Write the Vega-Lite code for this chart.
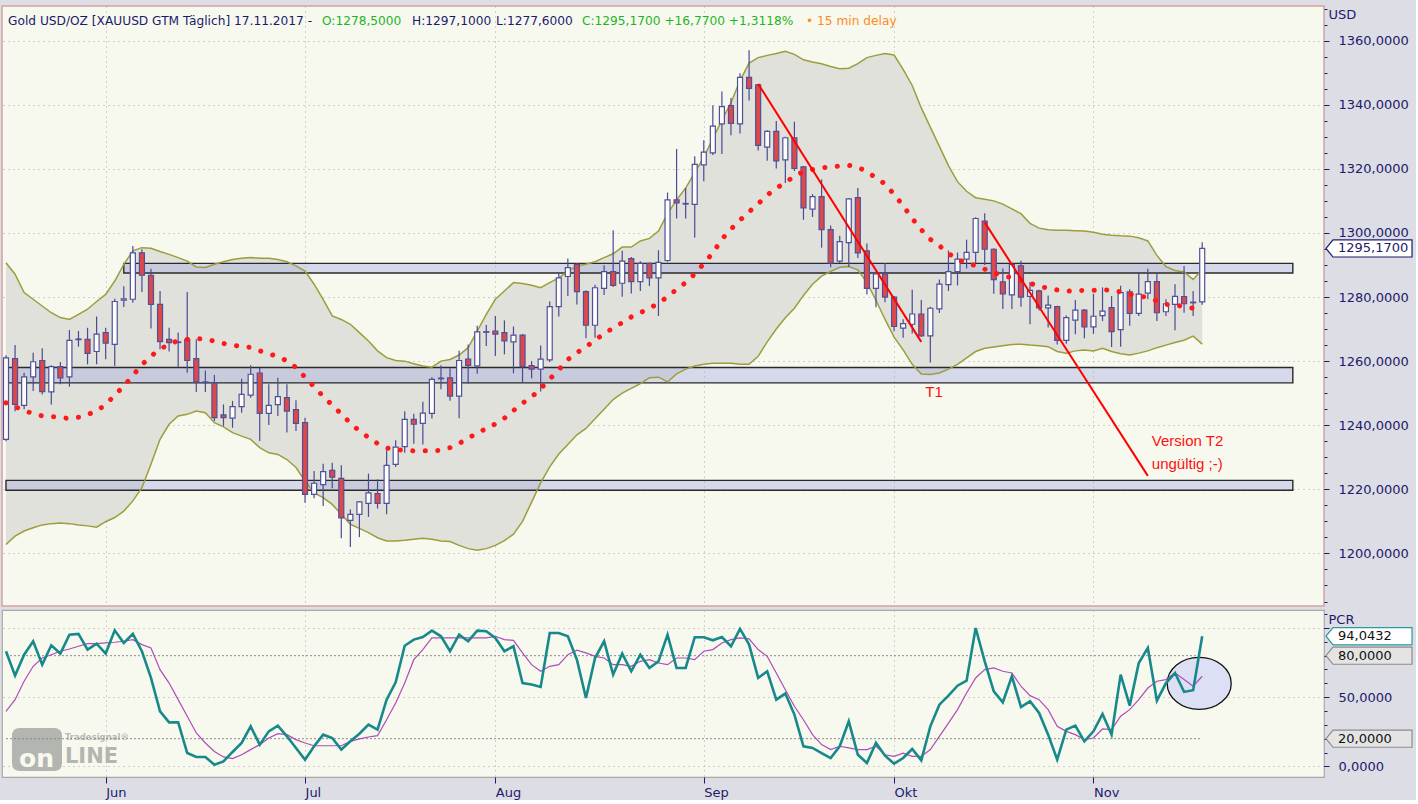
{
  "$schema": "https://vega.github.io/schema/vega-lite/v6.json",
  "background": "#dddde5",
  "padding": {"left": -5, "top": 5, "right": 0, "bottom": 0},
  "spacing": 2,
  "config": {
    "font": "DejaVu Sans",
    "axis": {
      "labelFont": "DejaVu Sans", "labelFontSize": 13, "labelColor": "#1b1b6b",
      "tickColor": "#1b1b6b", "gridColor": "#a8a8a8", "gridDash": [1, 4], "gridWidth": 1,
      "domain": false, "titleFont": "DejaVu Sans", "titleFontWeight": "normal",
      "titleFontSize": 13, "titleColor": "#1b1b6b"
    }
  },
  "datasets": {
    "gold": [
      {"d":"2017-05-17","o":1235.6,"h":1261.8,"l":1235,"c":1261,"bu":1290.7,"bl":1202.8,"m":1247,"p":83.2,"s":39.8},
      {"d":"2017-05-18","o":1260.8,"h":1265,"l":1244.4,"c":1246.5,"bu":1287.1,"bl":1205.4,"m":1245.8,"p":65.6,"s":48.2},
      {"d":"2017-05-19","o":1246.2,"h":1256.4,"l":1245,"c":1255.1,"bu":1281.4,"bl":1207,"m":1244.6,"p":80.7,"s":61.5},
      {"d":"2017-05-22","o":1255.1,"h":1262.6,"l":1250.7,"c":1259.8,"bu":1279.3,"bl":1208,"m":1243.6,"p":90.4,"s":72.3},
      {"d":"2017-05-23","o":1260.2,"h":1264,"l":1249.6,"c":1250.5,"bu":1277.2,"bl":1208.9,"m":1242.9,"p":73.5,"s":78.3},
      {"d":"2017-05-24","o":1250.4,"h":1258.7,"l":1246.5,"c":1258.3,"bu":1275.1,"bl":1209.3,"m":1242.7,"p":87.5,"s":80.7},
      {"d":"2017-05-25","o":1258.3,"h":1259.7,"l":1252.8,"c":1254.8,"bu":1273.6,"bl":1209.5,"m":1242.4,"p":81.5,"s":83.2},
      {"d":"2017-05-26","o":1255.1,"h":1269.7,"l":1252,"c":1266.5,"bu":1273,"bl":1209.3,"m":1242.1,"p":95.2,"s":84.8},
      {"d":"2017-05-29","o":1266.7,"h":1269.4,"l":1264.5,"c":1266.9,"bu":1274.6,"bl":1208.9,"m":1242.5,"p":95.7,"s":86.8},
      {"d":"2017-05-30","o":1266.8,"h":1270.4,"l":1259,"c":1262.4,"bu":1276.2,"bl":1208.6,"m":1243.3,"p":84.4,"s":88.7},
      {"d":"2017-05-31","o":1263,"h":1273.9,"l":1259,"c":1268.4,"bu":1278.6,"bl":1208.2,"m":1244.5,"p":88.7,"s":88.7},
      {"d":"2017-06-01","o":1268.9,"h":1270.4,"l":1260.6,"c":1265.6,"bu":1280.8,"bl":1209.9,"m":1246.4,"p":81.5,"s":89.2},
      {"d":"2017-06-02","o":1265.2,"h":1279.5,"l":1258.5,"c":1278.6,"bu":1285,"bl":1211.2,"m":1249.4,"p":98.3,"s":89.7},
      {"d":"2017-06-05","o":1279,"h":1283.4,"l":1276.9,"c":1279.4,"bu":1290.2,"bl":1213.2,"m":1252.2,"p":89.2,"s":90.4},
      {"d":"2017-06-06","o":1279.3,"h":1295.9,"l":1278.2,"c":1293.8,"bu":1294.4,"bl":1216.4,"m":1255.5,"p":95.7,"s":91.6},
      {"d":"2017-06-07","o":1293.8,"h":1294.9,"l":1281.6,"c":1286.8,"bu":1295.4,"bl":1220.5,"m":1258.9,"p":83.2,"s":88},
      {"d":"2017-06-08","o":1286.8,"h":1288.8,"l":1270.2,"c":1277.7,"bu":1295.2,"bl":1227.8,"m":1261.6,"p":63.9,"s":85.6},
      {"d":"2017-06-09","o":1277.7,"h":1281.9,"l":1263.7,"c":1266.1,"bu":1294.2,"bl":1235.6,"m":1263.7,"p":39.8,"s":69.9},
      {"d":"2017-06-12","o":1266.8,"h":1270.4,"l":1263,"c":1265.8,"bu":1293.3,"bl":1240.3,"m":1265.3,"p":31.8,"s":60.2},
      {"d":"2017-06-13","o":1266,"h":1268.9,"l":1258,"c":1265.8,"bu":1292.3,"bl":1242.9,"m":1266.4,"p":31.8,"s":48.2},
      {"d":"2017-06-14","o":1266.8,"h":1281.6,"l":1256.4,"c":1260.2,"bu":1291.2,"bl":1243.4,"m":1266.8,"p":9.6,"s":36.2},
      {"d":"2017-06-15","o":1260.8,"h":1266.8,"l":1250.4,"c":1253.5,"bu":1289.4,"bl":1244.4,"m":1267,"p":6.8,"s":24.1},
      {"d":"2017-06-16","o":1253.5,"h":1257.1,"l":1250.4,"c":1253.3,"bu":1289.2,"bl":1243.9,"m":1266.9,"p":6.8,"s":16.9},
      {"d":"2017-06-19","o":1253.1,"h":1255.7,"l":1241.3,"c":1242.4,"bu":1290.2,"bl":1240.8,"m":1266.2,"p":1.2,"s":10.8},
      {"d":"2017-06-20","o":1243.2,"h":1246.5,"l":1239.8,"c":1242.4,"bu":1291,"bl":1239.5,"m":1265.5,"p":3.6,"s":6.8},
      {"d":"2017-06-21","o":1242.2,"h":1247.6,"l":1239.2,"c":1245.8,"bu":1291.7,"bl":1237.7,"m":1265,"p":10.4,"s":5.6},
      {"d":"2017-06-22","o":1245.8,"h":1254.5,"l":1243.9,"c":1249.6,"bu":1292.1,"bl":1236.6,"m":1264.6,"p":16.9,"s":8.4},
      {"d":"2017-06-23","o":1249.4,"h":1258.7,"l":1248.6,"c":1255.9,"bu":1292.3,"bl":1235.6,"m":1264.3,"p":28.9,"s":12.1},
      {"d":"2017-06-26","o":1256.3,"h":1257.9,"l":1235.1,"c":1243.7,"bu":1292.1,"bl":1233,"m":1263.2,"p":15.7,"s":15.7},
      {"d":"2017-06-27","o":1243.7,"h":1252.8,"l":1240.1,"c":1246.2,"bu":1292.1,"bl":1231.4,"m":1262.3,"p":25.3,"s":20.5},
      {"d":"2017-06-28","o":1246.4,"h":1254.8,"l":1242.9,"c":1248.9,"bu":1291.7,"bl":1230.9,"m":1261.4,"p":29.4,"s":23.6},
      {"d":"2017-06-29","o":1248.6,"h":1252.8,"l":1237.7,"c":1244.4,"bu":1291,"bl":1229.3,"m":1260.1,"p":21.7,"s":22.9},
      {"d":"2017-06-30","o":1244.9,"h":1247.8,"l":1238.2,"c":1240.6,"bu":1289.7,"bl":1226.8,"m":1258,"p":13.3,"s":19.3},
      {"d":"2017-07-03","o":1240.8,"h":1242.3,"l":1215.8,"c":1218.4,"bu":1288.1,"bl":1222.6,"m":1255,"p":4.8,"s":16.9},
      {"d":"2017-07-04","o":1218.4,"h":1225.7,"l":1217.2,"c":1221.9,"bu":1284,"bl":1218.9,"m":1252,"p":14.5,"s":14.9},
      {"d":"2017-07-05","o":1221.5,"h":1228,"l":1214.8,"c":1225.5,"bu":1279.3,"bl":1217.4,"m":1249,"p":22.9,"s":14.9},
      {"d":"2017-07-06","o":1225.9,"h":1228.3,"l":1220.3,"c":1223.8,"bu":1274.1,"bl":1215.3,"m":1246.3,"p":20.5,"s":14.9},
      {"d":"2017-07-07","o":1223.4,"h":1227.5,"l":1204.7,"c":1211.1,"bu":1273,"bl":1212.2,"m":1243.5,"p":12.1,"s":14.9},
      {"d":"2017-07-10","o":1210.3,"h":1213.7,"l":1202,"c":1212.2,"bu":1271.5,"bl":1209.1,"m":1240.7,"p":18.1,"s":18.1},
      {"d":"2017-07-11","o":1212.2,"h":1216.3,"l":1205.1,"c":1216.1,"bu":1268.9,"bl":1207.8,"m":1238.2,"p":23.6,"s":19.8},
      {"d":"2017-07-12","o":1215.6,"h":1224.9,"l":1211.4,"c":1218.9,"bu":1266.3,"bl":1206.5,"m":1236.2,"p":30.1,"s":21.2},
      {"d":"2017-07-13","o":1218.7,"h":1223.1,"l":1214,"c":1215.6,"bu":1263.2,"bl":1204.9,"m":1234.3,"p":26.5,"s":22.2},
      {"d":"2017-07-14","o":1215.6,"h":1232.2,"l":1212.2,"c":1227.5,"bu":1261.1,"bl":1203.9,"m":1232.9,"p":48.2,"s":33.7},
      {"d":"2017-07-17","o":1227.8,"h":1235.3,"l":1227,"c":1233.2,"bu":1260.2,"bl":1203.9,"m":1232.4,"p":60.7,"s":45.8},
      {"d":"2017-07-18","o":1233.3,"h":1244.4,"l":1231.4,"c":1241.8,"bu":1260,"bl":1204.1,"m":1232.1,"p":87.2,"s":60.2},
      {"d":"2017-07-19","o":1241.8,"h":1243.6,"l":1234.2,"c":1240.3,"bu":1259.2,"bl":1204.4,"m":1232,"p":91.6,"s":77.1},
      {"d":"2017-07-20","o":1240.6,"h":1247.3,"l":1234,"c":1243.8,"bu":1258.5,"bl":1204.7,"m":1232,"p":93.5,"s":84.4},
      {"d":"2017-07-21","o":1243.7,"h":1255,"l":1242.1,"c":1254.3,"bu":1258.1,"bl":1204.4,"m":1232,"p":98.1,"s":92.8},
      {"d":"2017-07-24","o":1254.5,"h":1258.7,"l":1251.2,"c":1254.7,"bu":1260,"bl":1203.9,"m":1232.2,"p":94,"s":92.8},
      {"d":"2017-07-25","o":1254.8,"h":1257.8,"l":1247.6,"c":1249.1,"bu":1260.5,"bl":1203.7,"m":1233,"p":83.2,"s":92.8},
      {"d":"2017-07-26","o":1249.1,"h":1263.2,"l":1242.2,"c":1260.2,"bu":1261.9,"bl":1202.5,"m":1234.3,"p":95.2,"s":92.8},
      {"d":"2017-07-27","o":1260.6,"h":1265.2,"l":1253,"c":1258.7,"bu":1264.2,"bl":1201.5,"m":1236,"p":90.4,"s":92.8},
      {"d":"2017-07-28","o":1258.5,"h":1271,"l":1256.1,"c":1269.1,"bu":1269.4,"bl":1201,"m":1237.5,"p":98.1,"s":92.8},
      {"d":"2017-07-31","o":1269,"h":1271.3,"l":1264.7,"c":1269.2,"bu":1274.6,"bl":1201.5,"m":1239,"p":97.6,"s":92.8},
      {"d":"2017-08-01","o":1269.4,"h":1274.1,"l":1261.6,"c":1268.4,"bu":1279.3,"bl":1202.5,"m":1240.4,"p":92.8,"s":94},
      {"d":"2017-08-02","o":1268.9,"h":1272.7,"l":1262.1,"c":1266.3,"bu":1281.9,"bl":1204,"m":1242.2,"p":83.2,"s":91.6},
      {"d":"2017-08-03","o":1266,"h":1270.8,"l":1256.2,"c":1268.1,"bu":1284.5,"bl":1206,"m":1244.6,"p":86.8,"s":91.1},
      {"d":"2017-08-04","o":1268.1,"h":1268.4,"l":1253.3,"c":1258.3,"bu":1284.2,"bl":1210,"m":1246.9,"p":60.2,"s":82},
      {"d":"2017-08-07","o":1258.6,"h":1260,"l":1254.6,"c":1257.5,"bu":1283.7,"bl":1216,"m":1248.8,"p":59.1,"s":73.5},
      {"d":"2017-08-08","o":1257.5,"h":1264.9,"l":1250.5,"c":1260.6,"bu":1282.9,"bl":1222,"m":1251.4,"p":57.4,"s":68.7},
      {"d":"2017-08-09","o":1260.4,"h":1278.6,"l":1259.7,"c":1277,"bu":1284.5,"bl":1227,"m":1254.4,"p":96.4,"s":72.3},
      {"d":"2017-08-10","o":1277,"h":1287.6,"l":1273.9,"c":1286,"bu":1286,"bl":1231,"m":1257.3,"p":96.4,"s":73.5},
      {"d":"2017-08-11","o":1286.4,"h":1292,"l":1280.3,"c":1289.2,"bu":1288.1,"bl":1234,"m":1260.5,"p":94,"s":80.7},
      {"d":"2017-08-14","o":1290.2,"h":1290.6,"l":1277.7,"c":1281.7,"bu":1289.7,"bl":1237,"m":1262.6,"p":77.1,"s":83.9},
      {"d":"2017-08-15","o":1281.7,"h":1282.1,"l":1267.1,"c":1271.2,"bu":1290.2,"bl":1239,"m":1264.5,"p":49.4,"s":82},
      {"d":"2017-08-16","o":1271.2,"h":1283.8,"l":1267.3,"c":1282.9,"bu":1291,"bl":1242,"m":1266.5,"p":78.3,"s":79.5},
      {"d":"2017-08-17","o":1282.7,"h":1289.9,"l":1280.6,"c":1287.9,"bu":1292.3,"bl":1245,"m":1268.6,"p":90.4,"s":78.3},
      {"d":"2017-08-18","o":1287.9,"h":1300.8,"l":1283.1,"c":1283.6,"bu":1293.5,"bl":1248,"m":1270.3,"p":66.3,"s":73.5},
      {"d":"2017-08-21","o":1284.3,"h":1294.4,"l":1280.1,"c":1291.2,"bu":1295.6,"bl":1250,"m":1272,"p":81.5,"s":73.5},
      {"d":"2017-08-22","o":1292,"h":1292.5,"l":1281.1,"c":1284.8,"bu":1295.6,"bl":1251.5,"m":1273.8,"p":68.7,"s":72.3},
      {"d":"2017-08-23","o":1284.8,"h":1291.2,"l":1281.9,"c":1290.5,"bu":1297.5,"bl":1253,"m":1275.1,"p":80.7,"s":75.9},
      {"d":"2017-08-24","o":1290.5,"h":1290.7,"l":1283.4,"c":1286,"bu":1298.3,"bl":1254.8,"m":1276.5,"p":71.1,"s":77.1},
      {"d":"2017-08-25","o":1286,"h":1294.6,"l":1274.1,"c":1290.8,"bu":1300.6,"bl":1255,"m":1278,"p":75.9,"s":74.7},
      {"d":"2017-08-28","o":1291.4,"h":1312.6,"l":1291,"c":1310.3,"bu":1306,"bl":1253.5,"m":1280.1,"p":95.2,"s":73.5},
      {"d":"2017-08-29","o":1310.3,"h":1326.2,"l":1304.5,"c":1309.4,"bu":1310.3,"bl":1256,"m":1282.4,"p":71.1,"s":78.3},
      {"d":"2017-08-30","o":1309.2,"h":1314,"l":1304.5,"c":1309,"bu":1314,"bl":1257.5,"m":1284.5,"p":71.1,"s":78.3},
      {"d":"2017-08-31","o":1308.9,"h":1323.9,"l":1298.6,"c":1321.4,"bu":1318.8,"bl":1258.5,"m":1287.2,"p":93.3,"s":77.1},
      {"d":"2017-09-01","o":1321.2,"h":1328.9,"l":1316.1,"c":1325.2,"bu":1323.6,"bl":1259,"m":1290.4,"p":93.3,"s":83.2},
      {"d":"2017-09-04","o":1325,"h":1339.8,"l":1324.3,"c":1333.3,"bu":1329.4,"bl":1259.3,"m":1293.8,"p":91.1,"s":84.4},
      {"d":"2017-09-05","o":1334,"h":1344.1,"l":1324.6,"c":1339.4,"bu":1335.2,"bl":1259.3,"m":1298,"p":93.5,"s":89.2},
      {"d":"2017-09-06","o":1339.7,"h":1342.1,"l":1330.5,"c":1334.2,"bu":1340.6,"bl":1259.3,"m":1301.2,"p":86.8,"s":91.6},
      {"d":"2017-09-07","o":1334,"h":1349.8,"l":1331,"c":1348.5,"bu":1347.5,"bl":1259,"m":1304,"p":99.3,"s":92.8},
      {"d":"2017-09-08","o":1348.5,"h":1357,"l":1341.3,"c":1345.1,"bu":1353,"bl":1259,"m":1306.6,"p":88,"s":92.1},
      {"d":"2017-09-11","o":1346.2,"h":1346.5,"l":1325.7,"c":1327.3,"bu":1354.7,"bl":1261.5,"m":1309.1,"p":63.9,"s":84.4},
      {"d":"2017-09-12","o":1326.8,"h":1332,"l":1322.5,"c":1331.7,"bu":1355.4,"bl":1266,"m":1311.8,"p":68.7,"s":79.5},
      {"d":"2017-09-13","o":1331.7,"h":1334.9,"l":1320.1,"c":1322.5,"bu":1356,"bl":1270,"m":1314,"p":48.2,"s":67.5},
      {"d":"2017-09-14","o":1322.8,"h":1330,"l":1315.6,"c":1329.7,"bu":1356.7,"bl":1273.5,"m":1315.6,"p":52.6,"s":55.4},
      {"d":"2017-09-15","o":1329.7,"h":1334.7,"l":1319.3,"c":1320.1,"bu":1355.7,"bl":1276.5,"m":1317.8,"p":37.4,"s":43.4},
      {"d":"2017-09-18","o":1320.6,"h":1320.9,"l":1304.1,"c":1307.8,"bu":1354,"bl":1280.5,"m":1319.1,"p":14.5,"s":33.7},
      {"d":"2017-09-19","o":1307.4,"h":1312.1,"l":1305,"c":1311.3,"bu":1353.3,"bl":1284,"m":1319.8,"p":13.3,"s":22.9},
      {"d":"2017-09-20","o":1311.3,"h":1316.7,"l":1295.4,"c":1301,"bu":1352.8,"bl":1286.5,"m":1320.3,"p":9.6,"s":15.7},
      {"d":"2017-09-21","o":1301,"h":1302.3,"l":1289.3,"c":1290.6,"bu":1351.9,"bl":1288,"m":1320.6,"p":6,"s":12.1},
      {"d":"2017-09-22","o":1291.2,"h":1299.1,"l":1290.6,"c":1297.3,"bu":1351.2,"bl":1289.3,"m":1320.9,"p":14.5,"s":14.5},
      {"d":"2017-09-25","o":1297,"h":1310.8,"l":1289.4,"c":1310.6,"bu":1351.4,"bl":1289.5,"m":1321.1,"p":32.5,"s":13.3},
      {"d":"2017-09-26","o":1311,"h":1314,"l":1292.2,"c":1293.8,"bu":1352.8,"bl":1288.5,"m":1320.5,"p":8.4,"s":12.1},
      {"d":"2017-09-27","o":1294.4,"h":1296.7,"l":1280.8,"c":1282.7,"bu":1354.7,"bl":1284.5,"m":1319.1,"p":2.4,"s":12.1},
      {"d":"2017-09-28","o":1282.7,"h":1288,"l":1276.8,"c":1287.2,"bu":1355.4,"bl":1279,"m":1317.2,"p":16.9,"s":14.5},
      {"d":"2017-09-29","o":1287.2,"h":1290.6,"l":1278.4,"c":1280,"bu":1356,"bl":1273,"m":1315.3,"p":7.7,"s":8.4},
      {"d":"2017-10-02","o":1280,"h":1280.3,"l":1269.3,"c":1270.8,"bu":1355.5,"bl":1267.5,"m":1312,"p":1.9,"s":7.2},
      {"d":"2017-10-03","o":1270.3,"h":1273.1,"l":1267.3,"c":1271.7,"bu":1351,"bl":1263.5,"m":1308.5,"p":6,"s":9.6},
      {"d":"2017-10-04","o":1271.5,"h":1282.3,"l":1268.6,"c":1274.7,"bu":1346,"bl":1259,"m":1304.5,"p":12.5,"s":7.2},
      {"d":"2017-10-05","o":1274.7,"h":1279.1,"l":1267.6,"c":1267.9,"bu":1339,"bl":1256,"m":1301,"p":4.3,"s":7.2},
      {"d":"2017-10-06","o":1267.9,"h":1277,"l":1259.6,"c":1276.5,"bu":1333,"bl":1255.8,"m":1298,"p":28.9,"s":12.1},
      {"d":"2017-10-09","o":1276.3,"h":1285.5,"l":1275,"c":1284,"bu":1327,"bl":1256.3,"m":1296,"p":44.6,"s":21.7},
      {"d":"2017-10-10","o":1283.9,"h":1294.5,"l":1281.9,"c":1287.9,"bu":1321,"bl":1257.5,"m":1293.6,"p":51.1,"s":31.3},
      {"d":"2017-10-11","o":1287.9,"h":1293.9,"l":1283.6,"c":1291.8,"bu":1316,"bl":1259,"m":1291.8,"p":58.3,"s":41},
      {"d":"2017-10-12","o":1291.8,"h":1297.9,"l":1288.9,"c":1293.9,"bu":1313,"bl":1261,"m":1290.5,"p":61.9,"s":53},
      {"d":"2017-10-13","o":1293.9,"h":1304.9,"l":1290.5,"c":1304.5,"bu":1311,"bl":1263,"m":1289.8,"p":100,"s":63.9},
      {"d":"2017-10-16","o":1303.7,"h":1306.1,"l":1290,"c":1294.9,"bu":1310.5,"bl":1264,"m":1288.7,"p":75.9,"s":69.9},
      {"d":"2017-10-17","o":1294.9,"h":1295.2,"l":1281,"c":1285.4,"bu":1310,"bl":1264.4,"m":1287.7,"p":54.2,"s":71.1},
      {"d":"2017-10-18","o":1284.7,"h":1288.9,"l":1276.3,"c":1281,"bu":1309,"bl":1264.8,"m":1286.5,"p":46.3,"s":68.7},
      {"d":"2017-10-19","o":1280.7,"h":1290.5,"l":1276.3,"c":1290.2,"bu":1307.5,"bl":1265.2,"m":1286.1,"p":65.1,"s":67.5},
      {"d":"2017-10-20","o":1289.7,"h":1291.3,"l":1277,"c":1280,"bu":1306,"bl":1265.3,"m":1285.2,"p":42.9,"s":57.9},
      {"d":"2017-10-23","o":1280.2,"h":1284.7,"l":1271.5,"c":1282.1,"bu":1303,"bl":1265,"m":1284.3,"p":47,"s":51.1},
      {"d":"2017-10-24","o":1281.9,"h":1282.3,"l":1275.8,"c":1276.6,"bu":1301.5,"bl":1264.8,"m":1283.3,"p":38.6,"s":48.2},
      {"d":"2017-10-25","o":1276.6,"h":1280.5,"l":1270.5,"c":1277.5,"bu":1301,"bl":1264.5,"m":1282.8,"p":22.9,"s":41},
      {"d":"2017-10-26","o":1277,"h":1277.3,"l":1265.2,"c":1266.5,"bu":1300.8,"bl":1263,"m":1282.2,"p":4.8,"s":28.9},
      {"d":"2017-10-27","o":1266.5,"h":1274.2,"l":1265.4,"c":1273.6,"bu":1300.8,"bl":1262.5,"m":1281.8,"p":26.5,"s":25.3},
      {"d":"2017-10-30","o":1272.8,"h":1279.1,"l":1268.4,"c":1275.9,"bu":1300.7,"bl":1263.2,"m":1282,"p":29.4,"s":22.9},
      {"d":"2017-10-31","o":1275.9,"h":1276.3,"l":1267.1,"c":1270.7,"bu":1300.6,"bl":1263.5,"m":1282.1,"p":18.1,"s":19.3},
      {"d":"2017-11-01","o":1270.7,"h":1281,"l":1268.5,"c":1274,"bu":1300.2,"bl":1263.2,"m":1282.1,"p":25.3,"s":20.5},
      {"d":"2017-11-02","o":1274.2,"h":1283,"l":1272.5,"c":1275.6,"bu":1299.6,"bl":1264,"m":1282.3,"p":37.9,"s":27},
      {"d":"2017-11-03","o":1276.7,"h":1280.3,"l":1264.4,"c":1269.2,"bu":1299.3,"bl":1263,"m":1282.1,"p":22.9,"s":26.5},
      {"d":"2017-11-06","o":1269.8,"h":1283.5,"l":1264.5,"c":1281.4,"bu":1299.1,"bl":1262.3,"m":1281.6,"p":66.3,"s":36.2},
      {"d":"2017-11-07","o":1281.6,"h":1282.4,"l":1271,"c":1274.9,"bu":1299,"bl":1261.9,"m":1280.9,"p":43.9,"s":41},
      {"d":"2017-11-08","o":1274.9,"h":1287.3,"l":1274.1,"c":1280.9,"bu":1298.5,"bl":1262.5,"m":1280.4,"p":74.7,"s":48.2},
      {"d":"2017-11-09","o":1281.2,"h":1288.8,"l":1279.3,"c":1284.8,"bu":1297.5,"bl":1263.2,"m":1279.8,"p":85.6,"s":56.6},
      {"d":"2017-11-10","o":1284.8,"h":1287.6,"l":1272.5,"c":1275.1,"bu":1293,"bl":1264.2,"m":1278.8,"p":47.5,"s":61.5},
      {"d":"2017-11-13","o":1275.4,"h":1279.3,"l":1274.1,"c":1277.9,"bu":1289.5,"bl":1265,"m":1277.7,"p":60.2,"s":62.7},
      {"d":"2017-11-14","o":1277.7,"h":1284,"l":1269.6,"c":1280.2,"bu":1288.3,"bl":1265.8,"m":1277.5,"p":67.5,"s":67.5},
      {"d":"2017-11-15","o":1280.1,"h":1289.7,"l":1275.1,"c":1277.9,"bu":1287.8,"bl":1266.5,"m":1277,"p":53.8,"s":62.7},
      {"d":"2017-11-16","o":1278.2,"h":1281.9,"l":1274.1,"c":1278.4,"bu":1285.5,"bl":1267.8,"m":1276.5,"p":55,"s":57.9},
      {"d":"2017-11-17","o":1278.5,"h":1297.1,"l":1277.6,"c":1295.17,"bu":1288.6,"bl":1265.3,"m":1277.5,"p":94.04,"s":65.1}
    ],
    "zones": [
      {"d0":"2017-06-05","d1":"2017-12-01","v0":1287.5,"v1":1290.5},
      {"d0":"2017-05-17","d1":"2017-12-01","v0":1253.2,"v1":1258.0},
      {"d0":"2017-05-17","d1":"2017-12-01","v0":1219.7,"v1":1222.8}
    ],
    "trend": [
      {"g":1,"d":"2017-09-11","v":1346.5},
      {"g":1,"d":"2017-10-05","v":1266.0},
      {"g":2,"d":"2017-10-16","v":1303.3},
      {"g":2,"d":"2017-11-09","v":1224.2}
    ],
    "notes": [
      {"t":"T1","d":"2017-10-05","v":1250.5},
      {"t":"Version T2","d":"2017-11-09","v":1235.1},
      {"t":"ungültig ;-)","d":"2017-11-09","v":1228.0}
    ],
    "levels": [{"v":80},{"v":20}],
    "pcrBoxes": [
      {"v":94.0432,"t":"94,0432","k":"pcr"},
      {"v":80,"t":"80,0000","k":"lvl"},
      {"v":20,"t":"20,0000","k":"lvl"}
    ]
  },
  "vconcat": [
    {
      "width": 1322,
      "height": 600,
      "view": {"fill": "#f7f9ef", "stroke": "#d4a3a3", "strokeWidth": 1.5},
      "resolve": {"axis": {"y": "independent"}},
      "layer": [
        {
          "data": {"name": "gold"},
          "encoding": {
            "x": {
              "field": "d", "type": "ordinal",
              "scale": {"type": "point", "padding": 0.44, "domain": ["2017-05-17","2017-05-18","2017-05-19","2017-05-22","2017-05-23","2017-05-24","2017-05-25","2017-05-26","2017-05-29","2017-05-30","2017-05-31","2017-06-01","2017-06-02","2017-06-05","2017-06-06","2017-06-07","2017-06-08","2017-06-09","2017-06-12","2017-06-13","2017-06-14","2017-06-15","2017-06-16","2017-06-19","2017-06-20","2017-06-21","2017-06-22","2017-06-23","2017-06-26","2017-06-27","2017-06-28","2017-06-29","2017-06-30","2017-07-03","2017-07-04","2017-07-05","2017-07-06","2017-07-07","2017-07-10","2017-07-11","2017-07-12","2017-07-13","2017-07-14","2017-07-17","2017-07-18","2017-07-19","2017-07-20","2017-07-21","2017-07-24","2017-07-25","2017-07-26","2017-07-27","2017-07-28","2017-07-31","2017-08-01","2017-08-02","2017-08-03","2017-08-04","2017-08-07","2017-08-08","2017-08-09","2017-08-10","2017-08-11","2017-08-14","2017-08-15","2017-08-16","2017-08-17","2017-08-18","2017-08-21","2017-08-22","2017-08-23","2017-08-24","2017-08-25","2017-08-28","2017-08-29","2017-08-30","2017-08-31","2017-09-01","2017-09-04","2017-09-05","2017-09-06","2017-09-07","2017-09-08","2017-09-11","2017-09-12","2017-09-13","2017-09-14","2017-09-15","2017-09-18","2017-09-19","2017-09-20","2017-09-21","2017-09-22","2017-09-25","2017-09-26","2017-09-27","2017-09-28","2017-09-29","2017-10-02","2017-10-03","2017-10-04","2017-10-05","2017-10-06","2017-10-09","2017-10-10","2017-10-11","2017-10-12","2017-10-13","2017-10-16","2017-10-17","2017-10-18","2017-10-19","2017-10-20","2017-10-23","2017-10-24","2017-10-25","2017-10-26","2017-10-27","2017-10-30","2017-10-31","2017-11-01","2017-11-02","2017-11-03","2017-11-06","2017-11-07","2017-11-08","2017-11-09","2017-11-10","2017-11-13","2017-11-14","2017-11-15","2017-11-16","2017-11-17","2017-11-20","2017-11-21","2017-11-22","2017-11-23","2017-11-24","2017-11-27","2017-11-28","2017-11-29","2017-11-30","2017-12-01","2017-12-04","2017-12-05","2017-12-06"]},
              "axis": {"orient": "bottom", "values": ["2017-06-01","2017-07-03","2017-08-01","2017-09-01","2017-10-02","2017-11-01"], "labels": false, "ticks": false, "grid": true, "title": null}
            }
          },
          "layer": [
            {
              "mark": {"type": "area", "color": "#dfe1da"},
              "encoding": {
                "y": {
                  "field": "bu", "type": "quantitative",
                  "scale": {"domain": [1183.6, 1370.8], "zero": false, "nice": false},
                  "axis": {
                    "orient": "right", "values": [1200, 1220, 1240, 1260, 1280, 1300, 1320, 1340, 1360],
                    "labelExpr": "replace(format(datum.value, '.4f'), '.', ',')",
                    "tickSize": 5, "labelPadding": 9, "grid": true,
                    "title": "USD", "titleAngle": 0, "titleAlign": "left", "titleBaseline": "middle",
                    "titleX": 4, "titleY": 8
                  }
                },
                "y2": {"field": "bl"}
              }
            },
            {
              "data": {"name": "zones"},
              "mark": {"type": "rect", "fill": "#a9afe0", "fillOpacity": 0.42, "stroke": "#2a2a2a", "strokeWidth": 1.4},
              "encoding": {
                "x": {"field": "d0", "type": "ordinal"},
                "x2": {"field": "d1"},
                "y": {"field": "v0", "type": "quantitative"},
                "y2": {"field": "v1"}
              }
            },
            {
              "mark": {"type": "line", "color": "#9d9d3d", "strokeWidth": 1.5},
              "encoding": {"y": {"field": "bu", "type": "quantitative"}}
            },
            {
              "mark": {"type": "line", "color": "#9d9d3d", "strokeWidth": 1.5},
              "encoding": {"y": {"field": "bl", "type": "quantitative"}}
            },
            {
              "mark": {"type": "rule", "color": "#4a4a96", "strokeWidth": 1.2},
              "encoding": {
                "y": {"field": "l", "type": "quantitative"},
                "y2": {"field": "h"}
              }
            },
            {
              "mark": {"type": "bar", "width": 5, "stroke": "#50509a", "strokeWidth": 1.2},
              "encoding": {
                "y": {"field": "o", "type": "quantitative", "scale": {"zero": false}},
                "y2": {"field": "c"},
                "fill": {"condition": {"test": "datum.c >= datum.o", "value": "#fdfdfb"}, "value": "#e04848"}
              }
            },
            {
              "mark": {"type": "line", "color": "#ff1a1a", "strokeWidth": 5, "strokeDash": [0.1, 12.4], "strokeCap": "round"},
              "encoding": {"y": {"field": "m", "type": "quantitative"}}
            },
            {
              "data": {"name": "trend"},
              "mark": {"type": "line", "color": "#ff0000", "strokeWidth": 2},
              "encoding": {
                "x": {"field": "d", "type": "ordinal"},
                "y": {"field": "v", "type": "quantitative"},
                "detail": {"field": "g"}
              }
            },
            {
              "data": {"name": "notes"},
              "mark": {"type": "text", "align": "left", "baseline": "middle", "dx": 4, "font": "Liberation Sans", "fontSize": 15, "color": "#ff1010"},
              "encoding": {
                "x": {"field": "d", "type": "ordinal"},
                "y": {"field": "v", "type": "quantitative"},
                "text": {"field": "t"}
              }
            },
            {
              "data": {"values": [{"t": "Gold USD/OZ [XAUUSD GTM Täglich] 17.11.2017 -"}]},
              "mark": {"type": "text", "align": "left", "baseline": "middle", "dx": 2, "font": "DejaVu Sans", "fontSize": 12.2, "color": "#1b1b6b"},
              "encoding": {
                "x": {"datum": "2017-05-17", "type": "ordinal"},
                "y": {"datum": 1366.1, "type": "quantitative"},
                "text": {"field": "t"}
              }
            },
            {
              "data": {"values": [{"t": "O:1278,5000"}]},
              "mark": {"type": "text", "align": "left", "baseline": "middle", "dx": 316, "font": "DejaVu Sans", "fontSize": 12.2, "color": "#1fb41f"},
              "encoding": {
                "x": {"datum": "2017-05-17", "type": "ordinal"},
                "y": {"datum": 1366.1, "type": "quantitative"},
                "text": {"field": "t"}
              }
            },
            {
              "data": {"values": [{"t": "H:1297,1000"}]},
              "mark": {"type": "text", "align": "left", "baseline": "middle", "dx": 406, "font": "DejaVu Sans", "fontSize": 12.2, "color": "#1b1b6b"},
              "encoding": {
                "x": {"datum": "2017-05-17", "type": "ordinal"},
                "y": {"datum": 1366.1, "type": "quantitative"},
                "text": {"field": "t"}
              }
            },
            {
              "data": {"values": [{"t": "L:1277,6000"}]},
              "mark": {"type": "text", "align": "left", "baseline": "middle", "dx": 490, "font": "DejaVu Sans", "fontSize": 12.2, "color": "#1b1b6b"},
              "encoding": {
                "x": {"datum": "2017-05-17", "type": "ordinal"},
                "y": {"datum": 1366.1, "type": "quantitative"},
                "text": {"field": "t"}
              }
            },
            {
              "data": {"values": [{"t": "C:1295,1700 +16,7700 +1,3118%"}]},
              "mark": {"type": "text", "align": "left", "baseline": "middle", "dx": 576, "font": "DejaVu Sans", "fontSize": 12.2, "color": "#1fb41f"},
              "encoding": {
                "x": {"datum": "2017-05-17", "type": "ordinal"},
                "y": {"datum": 1366.1, "type": "quantitative"},
                "text": {"field": "t"}
              }
            },
            {
              "data": {"values": [{"t": "• 15 min delay"}]},
              "mark": {"type": "text", "align": "left", "baseline": "middle", "dx": 800, "font": "DejaVu Sans", "fontSize": 12.2, "color": "#ff8a1c"},
              "encoding": {
                "x": {"datum": "2017-05-17", "type": "ordinal"},
                "y": {"datum": 1366.1, "type": "quantitative"},
                "text": {"field": "t"}
              }
            },
            {
              "data": {"values": [{"t": "1295,1700"}]},
              "mark": {"type": "point", "filled": true, "shape": "M 0.14 0 L 0.302 -0.2 L 2.14 -0.2 L 2.14 0.2 L 0.302 0.2 Z", "size": 7396, "fill": "#ffffff", "stroke": "#1b1b6b", "strokeWidth": 1.2, "opacity": 1},
              "encoding": {
                "x": {"datum": "2017-12-06", "type": "ordinal"},
                "y": {"datum": 1295.17, "type": "quantitative"}
              }
            },
            {
              "data": {"values": [{"t": "1295,1700"}]},
              "mark": {"type": "text", "align": "left", "baseline": "middle", "dx": 18, "font": "DejaVu Sans", "fontSize": 13, "color": "#1b1b6b"},
              "encoding": {
                "x": {"datum": "2017-12-06", "type": "ordinal"},
                "y": {"datum": 1295.17, "type": "quantitative"},
                "text": {"field": "t"}
              }
            }
          ]
        },
        {
          "data": {"values": [{}]},
          "mark": {"type": "rule", "opacity": 0},
          "encoding": {
            "y": {
              "datum": 1300, "type": "quantitative",
              "axis": {"orient": "right", "values": [1185,1190,1195,1200,1205,1210,1215,1220,1225,1230,1235,1240,1245,1250,1255,1260,1265,1270,1275,1280,1285,1290,1295,1300,1305,1310,1315,1320,1325,1330,1335,1340,1345,1350,1355,1360,1365,1370], "labels": false, "tickSize": 3, "grid": false, "title": null}
            }
          }
        }
      ]
    },
    {
      "width": 1322,
      "height": 167,
      "view": {"fill": "#f7f9ef", "stroke": "#a9a9a9", "strokeWidth": 1.2},
      "resolve": {"axis": {"y": "independent"}},
      "layer": [
        {
          "data": {"name": "gold"},
          "encoding": {
            "x": {
              "field": "d", "type": "ordinal",
              "scale": {"type": "point", "padding": 0.44, "domain": ["2017-05-17","2017-05-18","2017-05-19","2017-05-22","2017-05-23","2017-05-24","2017-05-25","2017-05-26","2017-05-29","2017-05-30","2017-05-31","2017-06-01","2017-06-02","2017-06-05","2017-06-06","2017-06-07","2017-06-08","2017-06-09","2017-06-12","2017-06-13","2017-06-14","2017-06-15","2017-06-16","2017-06-19","2017-06-20","2017-06-21","2017-06-22","2017-06-23","2017-06-26","2017-06-27","2017-06-28","2017-06-29","2017-06-30","2017-07-03","2017-07-04","2017-07-05","2017-07-06","2017-07-07","2017-07-10","2017-07-11","2017-07-12","2017-07-13","2017-07-14","2017-07-17","2017-07-18","2017-07-19","2017-07-20","2017-07-21","2017-07-24","2017-07-25","2017-07-26","2017-07-27","2017-07-28","2017-07-31","2017-08-01","2017-08-02","2017-08-03","2017-08-04","2017-08-07","2017-08-08","2017-08-09","2017-08-10","2017-08-11","2017-08-14","2017-08-15","2017-08-16","2017-08-17","2017-08-18","2017-08-21","2017-08-22","2017-08-23","2017-08-24","2017-08-25","2017-08-28","2017-08-29","2017-08-30","2017-08-31","2017-09-01","2017-09-04","2017-09-05","2017-09-06","2017-09-07","2017-09-08","2017-09-11","2017-09-12","2017-09-13","2017-09-14","2017-09-15","2017-09-18","2017-09-19","2017-09-20","2017-09-21","2017-09-22","2017-09-25","2017-09-26","2017-09-27","2017-09-28","2017-09-29","2017-10-02","2017-10-03","2017-10-04","2017-10-05","2017-10-06","2017-10-09","2017-10-10","2017-10-11","2017-10-12","2017-10-13","2017-10-16","2017-10-17","2017-10-18","2017-10-19","2017-10-20","2017-10-23","2017-10-24","2017-10-25","2017-10-26","2017-10-27","2017-10-30","2017-10-31","2017-11-01","2017-11-02","2017-11-03","2017-11-06","2017-11-07","2017-11-08","2017-11-09","2017-11-10","2017-11-13","2017-11-14","2017-11-15","2017-11-16","2017-11-17","2017-11-20","2017-11-21","2017-11-22","2017-11-23","2017-11-24","2017-11-27","2017-11-28","2017-11-29","2017-11-30","2017-12-01","2017-12-04","2017-12-05","2017-12-06"]},
              "axis": {
                "orient": "bottom", "values": ["2017-06-01","2017-07-03","2017-08-01","2017-09-01","2017-10-02","2017-11-01"],
                "labelExpr": "datum.value == '2017-06-01' ? 'Jun' : datum.value == '2017-07-03' ? 'Jul' : datum.value == '2017-08-01' ? 'Aug' : datum.value == '2017-09-01' ? 'Sep' : datum.value == '2017-10-02' ? 'Okt' : 'Nov'",
                "labelAlign": "left", "labelAngle": 0, "tickSize": 6, "labelPadding": 3, "grid": true, "title": null
              }
            }
          },
          "layer": [
            {
              "data": {"values": [{}]},
              "mark": {"type": "point", "filled": true, "shape": "M 0.56 -0.86 L 1.92 -0.86 Q 2.24 -0.86 2.24 -0.54 L 2.24 0.54 Q 2.24 0.86 1.92 0.86 L 0.56 0.86 Q 0.24 0.86 0.24 0.54 L 0.24 -0.54 Q 0.24 -0.86 0.56 -0.86 Z", "size": 2500, "fill": "#b3b5b0", "strokeWidth": 0, "opacity": 1},
              "encoding": {
                "x": {"datum": "2017-05-17", "type": "ordinal"},
                "y": {"datum": 12.1, "type": "quantitative"}
              }
            },
            {
              "data": {"values": [{"t": "on"}]},
              "mark": {"type": "text", "align": "left", "baseline": "middle", "dx": 13, "font": "DejaVu Sans", "fontWeight": "bold", "fontSize": 25, "color": "#f7f9ef"},
              "encoding": {
                "x": {"datum": "2017-05-17", "type": "ordinal"},
                "y": {"datum": 5, "type": "quantitative"},
                "text": {"field": "t"}
              }
            },
            {
              "data": {"values": [{"t": "LINE"}]},
              "mark": {"type": "text", "align": "left", "baseline": "middle", "dx": 59, "font": "DejaVu Sans", "fontWeight": "bold", "fontSize": 21, "color": "#b3b5b0"},
              "encoding": {
                "x": {"datum": "2017-05-17", "type": "ordinal"},
                "y": {"datum": 6.4, "type": "quantitative"},
                "text": {"field": "t"}
              }
            },
            {
              "data": {"values": [{"t": "Tradesignal®"}]},
              "mark": {"type": "text", "align": "left", "baseline": "middle", "dx": 59, "font": "DejaVu Sans", "fontWeight": "bold", "fontSize": 8.5, "color": "#b8bab5"},
              "encoding": {
                "x": {"datum": "2017-05-17", "type": "ordinal"},
                "y": {"datum": 21.5, "type": "quantitative"},
                "text": {"field": "t"}
              }
            },
            {
              "data": {"values": [{}]},
              "mark": {"type": "point", "filled": true, "shape": "M 0.906 0 C 0.906 0.4487 0.4583 0.8125 -0.094 0.8125 C -0.6463 0.8125 -1.094 0.4487 -1.094 0 C -1.094 -0.4487 -0.6463 -0.8125 -0.094 -0.8125 C 0.4583 -0.8125 0.906 -0.4487 0.906 0 Z", "size": 4096, "fill": "#dde0f4", "stroke": "#111111", "strokeWidth": 1.3, "opacity": 1},
              "encoding": {
                "x": {"datum": "2017-11-17", "type": "ordinal"},
                "y": {"datum": 59.9, "type": "quantitative"}
              }
            },
            {
              "data": {"name": "levels"},
              "mark": {"type": "rule", "color": "#8a8a8a", "strokeDash": [2, 2], "strokeWidth": 1},
              "encoding": {
                "x": {"datum": "2017-05-17", "type": "ordinal"},
                "x2": {"datum": "2017-11-17"},
                "y": {"field": "v", "type": "quantitative"}
              }
            },
            {
              "mark": {"type": "line", "color": "#b04cb8", "strokeWidth": 1.2},
              "encoding": {"y": {"field": "s", "type": "quantitative"}}
            },
            {
              "mark": {"type": "line", "color": "#17898b", "strokeWidth": 2.6},
              "encoding": {
                "y": {
                  "field": "p", "type": "quantitative",
                  "scale": {"domain": [-7.7, 113], "zero": false, "nice": false},
                  "axis": {
                    "orient": "right", "values": [0, 50, 100],
                    "labelExpr": "datum.value == 100 ? '' : replace(format(datum.value, '.4f'), '.', ',')",
                    "tickSize": 5, "labelPadding": 9, "grid": true,
                    "title": "PCR", "titleAngle": 0, "titleAlign": "left", "titleBaseline": "middle",
                    "titleX": 4, "titleY": 9
                  }
                }
              }
            },
            {
              "data": {"name": "pcrBoxes"},
              "mark": {"type": "point", "filled": true, "shape": "M 0.14 0 L 0.302 -0.2 L 2.14 -0.2 L 2.14 0.2 L 0.302 0.2 Z", "size": 7396, "strokeWidth": 1.2, "opacity": 1},
              "encoding": {
                "x": {"datum": "2017-12-06", "type": "ordinal"},
                "y": {"field": "v", "type": "quantitative"},
                "fill": {"field": "k", "type": "nominal", "scale": {"domain": ["pcr", "lvl"], "range": ["#ffffff", "#e4e4e4"]}, "legend": null},
                "stroke": {"field": "k", "type": "nominal", "scale": {"domain": ["pcr", "lvl"], "range": ["#2a9a9a", "#8c8c8c"]}, "legend": null}
              }
            },
            {
              "data": {"name": "pcrBoxes"},
              "mark": {"type": "text", "align": "left", "baseline": "middle", "dx": 18, "font": "DejaVu Sans", "fontSize": 13, "color": "#111111"},
              "encoding": {
                "x": {"datum": "2017-12-06", "type": "ordinal"},
                "y": {"field": "v", "type": "quantitative"},
                "text": {"field": "t"}
              }
            }
          ]
        },
        {
          "data": {"values": [{}]},
          "mark": {"type": "rule", "opacity": 0},
          "encoding": {
            "y": {
              "datum": 50, "type": "quantitative",
              "axis": {"orient": "right", "values": [0, 10, 20, 30, 40, 50, 60, 70, 80, 90, 100, 110], "labels": false, "tickSize": 3, "grid": false, "title": null}
            }
          }
        }
      ]
    }
  ]
}
